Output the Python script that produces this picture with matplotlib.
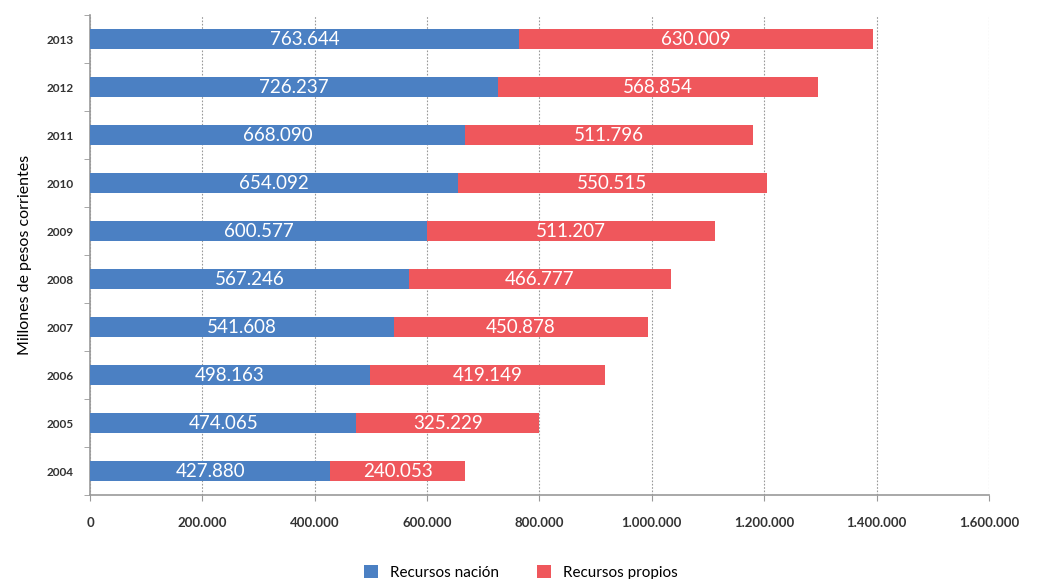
import numpy as np
import matplotlib.pyplot as plt
from matplotlib.ticker import FuncFormatter

years = ['2004', '2005', '2006', '2007', '2008', '2009', '2010', '2011', '2012', '2013']
nacion = [427880, 474065, 498163, 541608, 567246, 600577, 654092, 668090, 726237, 763644]
propios = [240053, 325229, 419149, 450878, 466777, 511207, 550515, 511796, 568854, 630009]

blue = '#4b80c3'
red = '#ef575c'

plt.rcParams['font.family'] = ['Lato', 'DejaVu Sans']

fig = plt.figure(figsize=(10.42, 5.79), dpi=100)
ax = fig.add_axes([0.0864, 0.145, 0.8627, 0.829])

y = np.arange(len(years))
h = 0.42
b1 = ax.barh(y, nacion, height=h, color=blue, label='Recursos nación', zorder=3)
b2 = ax.barh(y, propios, left=nacion, height=h, color=red, label='Recursos propios', zorder=3)

def fmt(v):
    return f'{int(v):,}'.replace(',', '.')

for i in range(len(years)):
    ax.text(nacion[i] / 2, y[i], fmt(nacion[i]), ha='center', va='center',
            color='white', fontsize=13.5, zorder=4)
    ax.text(nacion[i] + propios[i] / 2, y[i], fmt(propios[i]), ha='center', va='center',
            color='white', fontsize=13.5, zorder=4)

ax.set_xlim(0, 1600000)
ax.set_ylim(-0.5, len(years) - 0.5)
ax.set_xticks(np.arange(0, 1600001, 200000))
ax.xaxis.set_major_formatter(FuncFormatter(lambda v, p: fmt(v)))
ax.set_yticks(y)
ax.set_yticklabels(years)
ax.set_yticks(np.arange(-0.5, len(years), 1), minor=True)
ax.tick_params(axis='y', which='major', length=0, pad=12, labelsize=8.5)
ax.tick_params(axis='y', which='minor', length=4, color='#999999')
ax.tick_params(axis='x', length=4, color='#999999', labelsize=9.5, pad=12)
for lab in ax.get_xticklabels() + ax.get_yticklabels():
    lab.set_fontweight('bold')
    lab.set_color('#333333')

ax.grid(axis='x', linestyle=(0, (1.5, 1.5)), color='#999999', linewidth=0.8, zorder=0)
for s in ['top', 'right']:
    ax.spines[s].set_visible(False)
for s in ['left', 'bottom']:
    ax.spines[s].set_color('#999999')
    ax.spines[s].set_linewidth(1.2)

ax.set_ylabel('Millones de pesos corrientes', fontsize=11.5, labelpad=10)

fig.legend(handles=[b1, b2], loc='lower center', bbox_to_anchor=(0.5, -0.025), ncol=2,
           frameon=False, fontsize=11, handlelength=0.9, handleheight=0.9,
           columnspacing=2.5)

fig.savefig('out.png', dpi=100)
